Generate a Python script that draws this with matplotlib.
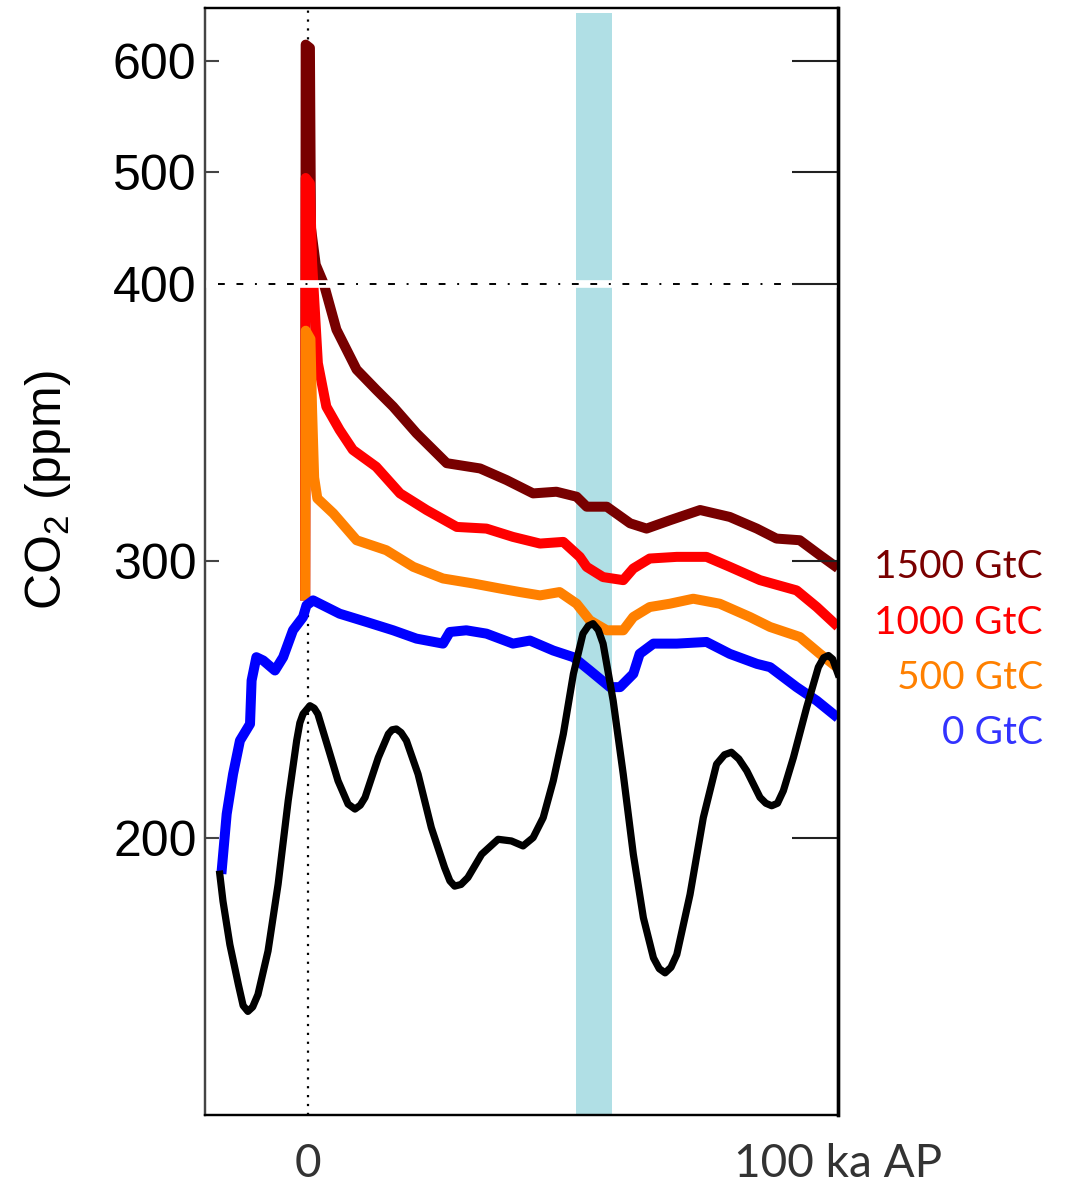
import numpy as np
import matplotlib.pyplot as plt

plt.rcParams['mathtext.fontset'] = 'custom'
plt.rcParams['mathtext.rm'] = 'Liberation Sans'
plt.rcParams['mathtext.default'] = 'rm'

# time in ka after present, CO2 in ppm
ka_nat = [-16.6, -16.0, -14.7, -13.1, -12.2, -11.3, -10.4, -9.4, -7.5, -5.6, -3.7, -2.1,
          -1.5, -0.9, 0.4, 1.2, 1.9, 3.8, 5.7, 7.6, 8.9, 9.9, 10.8, 13.3, 15.2, 15.9, 16.7,
          17.6, 18.6, 20.8, 23.3, 25.8, 26.8, 27.7, 28.9, 30.2, 32.8, 35.9, 38.4, 40.6,
          42.5, 44.4, 46.3, 48.2, 50.1, 51.9, 52.9, 53.8, 54.8, 55.7, 57.6, 59.5, 61.4,
          63.3, 65.2, 66.3, 67.4, 68.5, 69.6, 72.1, 74.6, 77.1, 78.6, 79.9, 81.3, 82.8,
          85.3, 86.4, 87.5, 88.6, 89.7, 91.6, 94.1, 96.3, 97.3, 98.2, 99.0, 100.0]
co2_nat = [186.9, 177.2, 161.5, 147.1, 139.5, 137.4, 139.0, 143.5, 159.2, 183.3, 213.4,
           235.1, 241.5, 244.7, 247.7, 246.8, 244.7, 232.7, 220.6, 212.2, 210.4, 211.8,
           214.6, 229.0, 237.5, 239.0, 239.3, 238.0, 235.1, 223.0, 203.7, 189.3, 184.5,
           182.6, 183.2, 185.7, 194.1, 199.5, 198.9, 197.1, 200.1, 207.3, 220.6, 237.5,
           259.2, 273.7, 276.5, 277.3, 275.0, 270.1, 249.5, 223.0, 194.1, 171.2, 156.7,
           152.8, 151.3, 153.3, 157.9, 179.6, 207.3, 226.6, 230.0, 230.9, 228.5, 224.2,
           214.6, 212.5, 211.6, 212.5, 217.0, 229.0, 247.1, 261.6, 265.0, 265.8, 264.5,
           259.2]

ka_0 = [-16.3, -15.3, -14.1, -12.8, -10.9, -10.6, -9.7, -8.4, -6.2, -4.65, -2.8, -0.9,
        -0.25, 1.0, 6.0, 11.1, 16.1, 20.5, 25.5, 26.8, 29.9, 33.7, 38.7, 41.9, 46.3,
        50.1, 53.2, 57.0, 58.9, 61.4, 62.6, 65.2, 69.6, 75.2, 79.6, 84.7, 87.2, 92.2,
        96.0, 100.0]
co2_0 = [187.0, 208.6, 223.0, 235.1, 241.1, 256.8, 265.2, 264.0, 260.4, 265.2, 274.9,
         279.7, 283.9, 285.7, 280.9, 277.9, 274.9, 271.9, 270.1, 274.3, 274.9, 273.7,
         270.1, 271.2, 267.6, 265.2, 260.4, 254.4, 254.4, 259.2, 266.4, 270.1, 270.1,
         270.7, 266.4, 262.8, 261.6, 254.4, 249.5, 243.3]

ka_500 = [-0.5, -0.4, 0.5, 0.8, 1.2, 1.8, 4.8, 9.2, 14.8, 19.9, 25.5, 31.2, 36.2, 40.0,
          43.8, 47.5, 50.7, 53.2, 56.4, 59.5, 61.4, 64.5, 68.3, 72.7, 77.7, 83.4, 87.2,
          92.8, 96.6, 100.0]
co2_500 = [285.7, 383.0, 380.0, 355.0, 330.0, 322.5, 317.1, 307.4, 303.8, 297.8, 293.6,
           291.8, 290.0, 288.7, 287.5, 288.7, 284.5, 278.5, 274.9, 274.9, 279.7, 283.3,
           284.5, 286.3, 284.5, 279.7, 276.1, 272.5, 266.4, 261.3]

ka_1000 = [-0.5, -0.4, 0.4, 0.8, 1.9, 3.5, 6.0, 8.5, 12.9, 17.4, 22.4, 28.1, 33.7, 38.7,
           43.8, 48.2, 51.3, 52.6, 55.7, 59.5, 61.4, 64.5, 69.6, 75.2, 79.6, 85.3, 92.2,
           96.0, 100.0]
co2_1000 = [285.7, 495.0, 490.0, 420.0, 371.3, 355.6, 347.2, 340.0, 333.9, 324.3, 318.3,
            312.2, 311.6, 308.6, 306.2, 306.8, 301.4, 297.8, 294.1, 293.0, 297.2, 300.8,
            301.4, 301.4, 297.8, 293.0, 289.3, 283.3, 276.2]

ka_1500 = [-0.5, -0.4, 0.4, 0.6, 1.5, 3.0, 5.4, 9.2, 12.9, 16.1, 20.5, 26.2, 32.5, 37.5,
           42.5, 46.9, 50.7, 52.6, 56.4, 60.8, 63.9, 68.3, 74.0, 79.6, 84.7, 88.4, 92.8,
           96.6, 100.0]
co2_1500 = [285.7, 615.0, 612.0, 450.0, 417.0, 400.0, 383.4, 369.0, 361.7, 355.6, 346.0,
            335.2, 333.3, 329.1, 324.3, 324.9, 323.1, 319.5, 319.5, 313.5, 311.6, 314.6,
            318.3, 315.8, 311.6, 308.0, 307.4, 302.0, 297.3]

band = (50.6, 57.4)
yticks = [200, 300, 400, 500, 600]
labels = ['1500 GtC', '1000 GtC', '500 GtC', '0 GtC']
label_colors = ['#7a0000', '#ff0000', '#ff8000', '#3333ff']


# axis is compressed above 400 ppm
def fwd(v):
    v = np.asarray(v, dtype=float)
    return np.where(v <= 400, v, 400 + (v - 400) * 0.401)


def inv(t):
    t = np.asarray(t, dtype=float)
    return np.where(t <= 400, t, 400 + (t - 400) / 0.401)


fig = plt.figure(figsize=(10.68, 11.88), dpi=100)
ax = fig.add_axes([0.1919, 0.0614, 0.5927, 0.9319])
ax.set_yscale('function', functions=(fwd, inv))
ax.set_xlim(-19.4, 100)
ax.set_ylim(100, 648)

ax.axvspan(band[0], band[1], ymax=0.995, color='#b0dfe5', lw=0, zorder=1)
ax.axvline(0, color='black', ls=(0, (1, 3)), lw=1.6, zorder=2)

kw = dict(lw=7.2, solid_joinstyle='round', solid_capstyle='butt', zorder=3)
ax.plot(ka_1500, co2_1500, color='#780000', **kw)
ax.plot(ka_1000, co2_1000, color='#ff0000', **kw)
ax.plot(ka_500, co2_500, color='#ff8000', **kw)
ax.plot(ka_0, co2_0, color='#0000ff', **kw)
ax.plot(ka_nat, co2_nat, color='black', lw=5.2, solid_joinstyle='round', zorder=4)

# break line at 400 ppm
ax.axhline(400, color='white', lw=5.5, zorder=6)
ax.axhline(400, xmin=0.02, color='black', lw=1.4, dashes=(3.5, 6, 3.5, 6, 1, 6), zorder=7)

ax.set_yticks(yticks)
ax.set_yticklabels([str(t) for t in yticks], fontfamily='Liberation Sans', fontsize=36)
ax.tick_params(axis='y', direction='in', length=10, width=1.5, color='#444444', pad=6)
ax.yaxis.set_minor_locator(plt.NullLocator())

ax.set_xticks([0, 100])
ax.set_xticklabels(['0', '100 ka AP'], fontfamily='Lato', fontsize=33, color='#333333')
ax.tick_params(axis='x', length=0, pad=20)

ax2 = ax.twinx()
ax2.set_yscale('function', functions=(fwd, inv))
ax2.set_ylim(100, 648)
ax2.set_yticks(yticks)
ax2.yaxis.set_minor_locator(plt.NullLocator())
ax2.tick_params(axis='y', direction='in', length=33, width=1.5, color='#222222', labelright=False)

for a in (ax, ax2):
    a.spines['left'].set_color('#444444')
    a.spines['left'].set_linewidth(1.6)
    a.spines['top'].set_linewidth(1.6)
    a.spines['bottom'].set_linewidth(1.6)
    a.spines['right'].set_linewidth(2.4)

fig.text(48 / 1068, 1 - 490 / 1188, 'CO$_2$ (ppm)', rotation=90, ha='center', va='center',
         fontsize=36, fontfamily='Liberation Sans')

for i, (lab, c) in enumerate(zip(labels, label_colors)):
    fig.text(1043 / 1068, 1 - (567 + 55.5 * i) / 1188, lab, ha='right', va='center',
             fontsize=28, fontfamily='Lato', color=c)

fig.savefig('out.png', dpi=100)
